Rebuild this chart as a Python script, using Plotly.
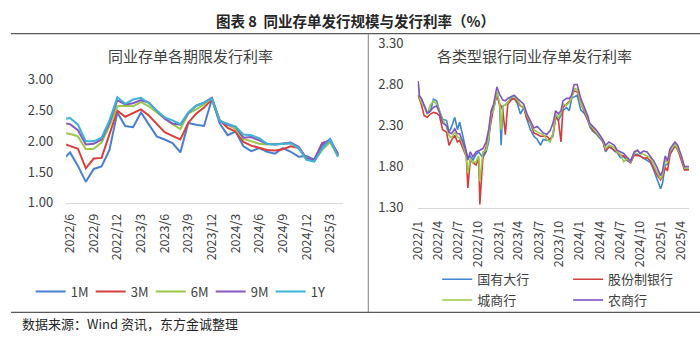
import plotly.graph_objects as go

# ---------------- Left chart data (monthly, 2022/5 .. 2025/4) ----------------
left_months = []
_y, _m = 2022, 5
for _ in range(36):
    left_months.append(f"{_y}/{_m}")
    _m += 1
    if _m > 12:
        _m = 1
        _y += 1

left_ticks = ["2022/6", "2022/9", "2022/12", "2023/3", "2023/6", "2023/9",
              "2023/12", "2024/3", "2024/6", "2024/9", "2024/12", "2025/3"]

rate_1m = [1.69, 1.82, 1.60, 1.34, 1.55, 1.59, 1.86, 2.47, 2.25, 2.23, 2.47, 2.27,
           2.08, 2.03, 1.97, 1.82, 2.30, 2.27, 2.25, 2.69, 2.29, 2.10, 2.16, 1.92,
           1.84, 1.89, 1.83, 1.80, 1.89, 1.83, 1.75, 1.76, 1.70, 1.93, 2.04, 1.78]
rate_3m = [1.97, 1.93, 1.88, 1.56, 1.72, 1.73, 2.12, 2.50, 2.40, 2.46, 2.52, 2.42,
           2.28, 2.15, 2.09, 2.03, 2.30, 2.45, 2.55, 2.68, 2.34, 2.22, 2.16, 1.99,
           1.93, 1.89, 1.86, 1.85, 1.87, 1.92, 1.89, 1.73, 1.70, 1.97, 2.01, 1.78]
rate_6m = [2.14, 2.12, 2.08, 1.87, 1.88, 1.98, 2.25, 2.57, 2.58, 2.57, 2.64, 2.57,
           2.47, 2.37, 2.28, 2.20, 2.45, 2.52, 2.60, 2.70, 2.34, 2.27, 2.20, 2.04,
           2.00, 1.96, 1.95, 1.95, 1.96, 1.97, 1.89, 1.73, 1.69, 1.86, 1.99, 1.75]
rate_9m = [2.30, 2.28, 2.18, 1.95, 1.96, 2.03, 2.30, 2.67, 2.60, 2.62, 2.67, 2.63,
           2.50, 2.37, 2.29, 2.27, 2.46, 2.58, 2.63, 2.71, 2.33, 2.27, 2.24, 2.06,
           2.07, 2.01, 1.96, 1.95, 1.97, 1.98, 1.91, 1.72, 1.70, 1.97, 2.01, 1.80]
rate_1y = [2.36, 2.38, 2.27, 2.00, 2.00, 2.06, 2.34, 2.72, 2.61, 2.68, 2.71, 2.62,
           2.50, 2.39, 2.34, 2.28, 2.47, 2.58, 2.63, 2.70, 2.33, 2.28, 2.24, 2.11,
           2.10, 2.05, 1.96, 1.95, 1.96, 1.97, 1.89, 1.70, 1.67, 1.88, 2.03, 1.75]

# ---------------- Right chart data ----------------
right_dates = [
    "2022-01-04", "2022-01-10", "2022-01-19", "2022-01-31", "2022-02-14", "2022-02-28",
    "2022-03-14", "2022-03-28", "2022-04-10", "2022-04-24", "2022-05-12", "2022-05-23",
    "2022-06-03", "2022-06-18", "2022-06-30", "2022-07-10", "2022-07-22", "2022-08-02",
    "2022-08-09", "2022-08-16", "2022-08-27", "2022-09-08", "2022-09-22", "2022-10-04",
    "2022-10-09", "2022-10-23", "2022-11-06", "2022-11-18", "2022-11-29", "2022-12-10",
    "2022-12-25", "2023-01-06", "2023-01-13", "2023-01-21", "2023-02-01", "2023-02-12",
    "2023-02-27", "2023-03-13", "2023-03-27", "2023-04-10", "2023-04-25", "2023-05-10",
    "2023-05-25", "2023-06-10", "2023-06-25", "2023-07-10", "2023-07-22", "2023-08-07",
    "2023-08-22", "2023-09-04", "2023-09-16", "2023-09-28", "2023-10-10", "2023-10-19",
    "2023-11-04", "2023-11-16", "2023-11-27", "2023-12-08", "2023-12-22", "2024-01-07",
    "2024-01-25", "2024-02-10", "2024-02-16", "2024-03-01", "2024-03-16", "2024-04-01",
    "2024-04-16", "2024-04-28", "2024-05-13", "2024-05-25", "2024-06-07", "2024-06-19",
    "2024-07-04", "2024-07-19", "2024-08-04", "2024-08-19", "2024-09-04", "2024-09-19",
    "2024-10-01", "2024-10-16", "2024-11-01", "2024-11-16", "2024-12-01", "2024-12-16",
    "2025-01-01", "2025-01-10", "2025-01-22", "2025-02-01", "2025-02-13", "2025-03-07",
    "2025-03-19", "2025-04-04", "2025-04-19", "2025-05-09",
]
state_banks = [
    2.65, 2.64, 2.60, 2.54, 2.45, 2.47, 2.62, 2.60, 2.48, 2.38, 2.36, 2.22,
    2.28, 2.40, 2.25, 2.34, 2.20, 2.05, 1.95, 1.90, 1.93, 1.88, 1.95, 1.98,
    1.96, 1.91, 1.98, 2.10, 2.46, 2.50, 2.69, 2.56, 2.06, 2.54, 2.55, 2.58,
    2.63, 2.63, 2.57, 2.44, 2.52, 2.37, 2.25, 2.17, 2.13, 2.06, 2.13, 2.12,
    2.13, 2.17, 2.42, 2.36, 2.42, 2.48, 2.52, 2.48, 2.63, 2.65, 2.67, 2.49,
    2.44, 2.35, 2.29, 2.23, 2.20, 2.15, 2.10, 1.98, 2.04, 2.03, 1.99, 1.97,
    1.91, 1.92, 1.87, 1.85, 1.95, 1.95, 1.93, 1.90, 1.87, 1.85, 1.76, 1.66,
    1.53, 1.60, 1.82, 1.83, 1.96, 2.05, 2.01, 1.91, 1.77, 1.77,
]
joint_stock = [
    2.67, 2.62, 2.55, 2.42, 2.40, 2.44, 2.46, 2.45, 2.42, 2.25, 2.22, 2.06,
    2.12, 2.18, 2.10, 2.12, 2.04, 1.98, 1.92, 1.54, 1.88, 1.85, 1.82, 1.90,
    1.34, 1.92, 2.04, 2.18, 2.35, 2.52, 2.67, 2.56, 2.54, 2.48, 2.19, 2.56,
    2.61, 2.63, 2.59, 2.54, 2.52, 2.38, 2.33, 2.21, 2.19, 2.17, 2.17, 2.17,
    2.13, 2.19, 2.40, 2.37, 2.10, 2.52, 2.56, 2.59, 2.65, 2.72, 2.71, 2.57,
    2.46, 2.35, 2.31, 2.25, 2.21, 2.17, 2.11, 2.00, 2.04, 2.02, 2.00, 1.98,
    1.94, 1.93, 1.89, 1.85, 1.94, 1.93, 1.93, 1.90, 1.91, 1.87, 1.79, 1.70,
    1.64, 1.68, 1.79, 1.75, 1.95, 2.06, 2.01, 1.89, 1.76, 1.76,
]
city_banks = [
    2.80, 2.64, 2.58, 2.53, 2.44, 2.55, 2.60, 2.56, 2.48, 2.38, 2.28, 2.18,
    2.15, 2.22, 2.16, 2.15, 2.10, 2.00, 1.92, 1.72, 1.90, 1.85, 1.86, 1.93,
    1.62, 1.98, 2.00, 2.15, 2.44, 2.48, 2.71, 2.58, 2.25, 2.54, 2.55, 2.58,
    2.65, 2.65, 2.61, 2.55, 2.52, 2.42, 2.33, 2.25, 2.22, 2.20, 2.19, 2.13,
    2.10, 2.20, 2.44, 2.40, 2.45, 2.56, 2.55, 2.58, 2.64, 2.75, 2.74, 2.57,
    2.48, 2.37, 2.31, 2.27, 2.22, 2.17, 2.12, 2.02, 2.06, 2.05, 2.03, 1.98,
    1.95, 1.86, 1.90, 1.86, 1.96, 2.00, 1.96, 1.95, 1.93, 1.91, 1.82, 1.73,
    1.65, 1.70, 1.88, 1.85, 1.99, 2.07, 2.02, 1.92, 1.78, 1.78,
]
rural_banks = [
    2.84, 2.66, 2.63, 2.55, 2.45, 2.48, 2.52, 2.54, 2.46, 2.33, 2.30, 2.22,
    2.20, 2.26, 2.20, 2.20, 2.12, 2.04, 1.97, 1.88, 1.98, 1.92, 1.98, 2.00,
    2.00, 2.02, 2.10, 2.25, 2.48, 2.56, 2.77, 2.68, 2.64, 2.61, 2.60, 2.63,
    2.65, 2.67, 2.63, 2.60, 2.56, 2.44, 2.35, 2.27, 2.29, 2.25, 2.21, 2.19,
    2.24, 2.33, 2.48, 2.44, 2.48, 2.60, 2.63, 2.63, 2.67, 2.80, 2.80, 2.63,
    2.52, 2.40, 2.33, 2.29, 2.25, 2.19, 2.13, 2.06, 2.10, 2.08, 2.06, 2.00,
    1.98, 1.96, 1.91, 1.87, 1.98, 2.00, 1.96, 1.99, 1.98, 1.93, 1.87, 1.79,
    1.69, 1.75, 1.93, 1.87, 2.02, 2.10, 2.06, 1.94, 1.80, 1.80,
]

right_ticks = ["2022-01-01", "2022-04-01", "2022-07-01", "2022-10-01", "2023-01-01",
               "2023-04-01", "2023-07-01", "2023-10-01", "2024-01-01", "2024-04-01",
               "2024-07-01", "2024-10-01", "2025-01-01", "2025-04-01"]
right_tick_text = ["2022/1", "2022/4", "2022/7", "2022/10", "2023/1", "2023/4", "2023/7",
                   "2023/10", "2024/1", "2024/4", "2024/7", "2024/10", "2025/1", "2025/4"]

FONT = "Noto Sans CJK SC"
TXT = "#404040"
W, H = 700, 344

fig = go.Figure()

left_series = [("1M", rate_1m, "#4A7FCF"), ("3M", rate_3m, "#D8403D"),
               ("6M", rate_6m, "#9BC74C"), ("9M", rate_9m, "#8758BC"),
               ("1Y", rate_1y, "#3EB3D8")]
for name, vals, col in left_series:
    fig.add_trace(go.Scatter(x=left_months, y=vals, name=name, mode="lines",
                             line=dict(color=col, width=2), xaxis="x", yaxis="y",
                             legend="legend"))

right_series = [("国有大行", state_banks, "#3F85D0", "legend2"),
                ("股份制银行", joint_stock, "#D23E3C", "legend3"),
                ("城商行", city_banks, "#9CC84B", "legend4"),
                ("农商行", rural_banks, "#7E55C0", "legend5")]
for name, vals, col, lg in right_series:
    fig.add_trace(go.Scatter(x=right_dates, y=vals, name=name, mode="lines",
                             line=dict(color=col, width=1.6), xaxis="x2", yaxis="y2",
                             legend=lg))

def px(x):
    return x / W

def py(y):
    return 1 - y / H

axis_font = dict(family=FONT, size=13, color=TXT)
leg_font = dict(family=FONT, size=13, color=TXT)

def small_legend(x, y):
    return dict(orientation="h", x=px(x), y=py(y), xanchor="left", yanchor="middle",
                font=leg_font, bgcolor="rgba(0,0,0,0)")

fig.update_layout(
    width=W, height=H, autosize=False,
    margin=dict(l=0, r=0, t=0, b=0),
    paper_bgcolor="white", plot_bgcolor="white",
    font=dict(family=FONT, color=TXT),
    xaxis=dict(domain=[px(56), px(337)], type="category", categoryorder="array",
               categoryarray=left_months, range=[0.5, 35.6],
               tickmode="array", tickvals=left_ticks, ticktext=left_ticks,
               tickangle=-90, showgrid=False, zeroline=False,
               showline=True, linecolor="#D9D9D9", linewidth=1,
               ticks="", tickfont=dict(family=FONT, size=12.5, color=TXT),
               ticklabelstandoff=5, anchor="y"),
    yaxis=dict(domain=[py(204), py(74)], range=[1, 3], tickmode="array",
               tickvals=[1.0, 1.5, 2.0, 2.5, 3.0], tickformat=".2f",
               showgrid=False, zeroline=False, showline=False, ticks="",
               tickfont=axis_font, ticklabelstandoff=12, anchor="x"),
    xaxis2=dict(domain=[px(413), px(689)], type="date",
                range=["2022-01-01", "2025-05-10"],
                tickmode="array", tickvals=right_ticks, ticktext=right_tick_text,
                tickangle=-90, showgrid=False, zeroline=False,
                showline=True, linecolor="#D9D9D9", linewidth=1,
                ticks="", tickfont=dict(family=FONT, size=12.5, color=TXT),
                ticklabelstandoff=7, anchor="y2"),
    yaxis2=dict(domain=[py(209.3), py(35.3)], range=[1.3, 3.3], tickmode="array",
                tickvals=[1.3, 1.8, 2.3, 2.8, 3.3], tickformat=".2f",
                showgrid=False, zeroline=False, showline=False, ticks="",
                tickfont=axis_font, ticklabelstandoff=13, anchor="x2"),
    legend=dict(orientation="h", x=px(20), y=py(298), xanchor="left", yanchor="middle",
                entrywidth=15, entrywidthmode="pixels", font=leg_font,
                bgcolor="rgba(0,0,0,0)"),
    legend2=small_legend(433, 285),
    legend3=small_legend(566, 285),
    legend4=small_legend(433, 307),
    legend5=small_legend(566, 307),
    showlegend=True,
)

annotations = [
    dict(text="<b>图表 8  同业存单发行规模与发行利率（%）</b>", x=px(350), y=py(11),
         font=dict(family=FONT, size=14.5, color="#262626")),
    dict(text="同业存单各期限发行利率", x=px(182), y=py(48),
         font=dict(family=FONT, size=15, color=TXT)),
    dict(text="各类型银行同业存单发行利率", x=px(532), y=py(48),
         font=dict(family=FONT, size=15, color=TXT)),
]
for a in annotations:
    fig.add_annotation(xref="paper", yref="paper", showarrow=False,
                       xanchor="center", yanchor="middle", **a)
fig.add_annotation(xref="paper", yref="paper", showarrow=False, xanchor="left",
                   yanchor="middle", x=px(9), y=py(332),
                   text="数据来源：Wind 资讯，东方金诚整理",
                   font=dict(family=FONT, size=13, color="#262626"))

line_style = dict(color="#595959", width=1.2)
fig.add_shape(type="line", xref="paper", yref="paper", x0=0, x1=1, y0=py(25), y1=py(25),
              line=line_style)
fig.add_shape(type="line", xref="paper", yref="paper", x0=0, x1=1, y0=py(320), y1=py(320),
              line=line_style)
fig.add_shape(type="line", xref="paper", yref="paper", x0=px(363), x1=px(363),
              y0=py(25), y1=py(320), line=dict(color="#7F7F7F", width=1))

fig.write_html("out.html")
